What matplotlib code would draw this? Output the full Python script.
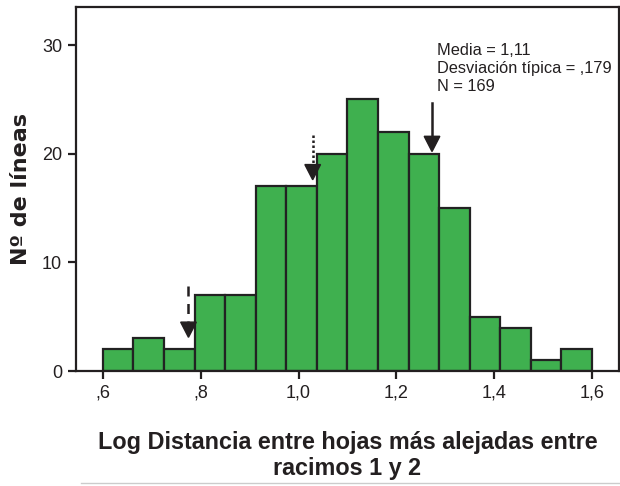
import matplotlib.pyplot as plt
import numpy as np

# bin edges and counts
bin_start = 0.6
bin_width = 0.0625
counts = [2, 3, 2, 7, 7, 17, 17, 20, 25, 22, 20, 15, 5, 4, 1, 2]

x_ticks = [0.6, 0.8, 1.0, 1.2, 1.4, 1.6]
x_tick_labels = [",6", ",8", "1,0", "1,2", "1,4", "1,6"]
y_ticks = [0, 10, 20, 30]

# arrows: (x, top, tip, style)
arrows = [(0.775, 7.8, 3.1, (0, (4, 3))),
          (1.029, 21.7, 17.6, (0, (1, 1))),
          (1.273, 24.7, 20.2, "-")]

stats_text = "Media = 1,11\nDesviación típica = ,179\nN = 169"

plt.rcParams["font.family"] = ["Liberation Sans", "DejaVu Sans"]
ink = "#231f20"

fig = plt.figure(figsize=(6.2, 4.86), dpi=100)
ax = fig.add_axes([0.1226, 0.2366, 0.8755, 0.749])

lefts = bin_start + bin_width * np.arange(len(counts))
ax.bar(lefts, counts, width=bin_width, align="edge", color="#3fb04f",
       edgecolor="#222222", linewidth=1.6, zorder=2)

# arrows pointing at the bars
for x, top, tip, ls in arrows:
    head = 1.4
    ax.plot([x, x], [top, tip + head], color=ink, lw=1.8, ls=ls, zorder=3)
    ax.fill([x - 0.016, x + 0.016, x], [tip + head, tip + head, tip],
            color=ink, zorder=3)

ax.text(1.284, 30.2, stats_text, fontsize=11.8, va="top", ha="left",
        linespacing=1.25, color=ink)

ax.set_xlim(0.545, 1.655)
ax.set_ylim(0, 33.5)
ax.set_xticks(x_ticks)
ax.set_xticklabels(x_tick_labels)
ax.set_yticks(y_ticks)
ax.tick_params(direction="out", length=6, width=1.6, labelsize=13,
               colors=ink, pad=4)
for s in ax.spines.values():
    s.set_linewidth(1.6)
    s.set_color(ink)

ax.set_xlabel("Log Distancia entre hojas más alejadas entre\nracimos 1 y 2",
              fontsize=16.8, fontweight="bold", linespacing=1.15,
              labelpad=21, color=ink)
ax.set_ylabel("Nº de líneas", fontsize=16, fontweight="bold", labelpad=8,
              color=ink, family=["DejaVu Sans"])

fig.add_artist(plt.Line2D([0.13, 1.0], [0.006, 0.006], color="#cccccc", lw=1))

fig.savefig("out.png", dpi=100)
